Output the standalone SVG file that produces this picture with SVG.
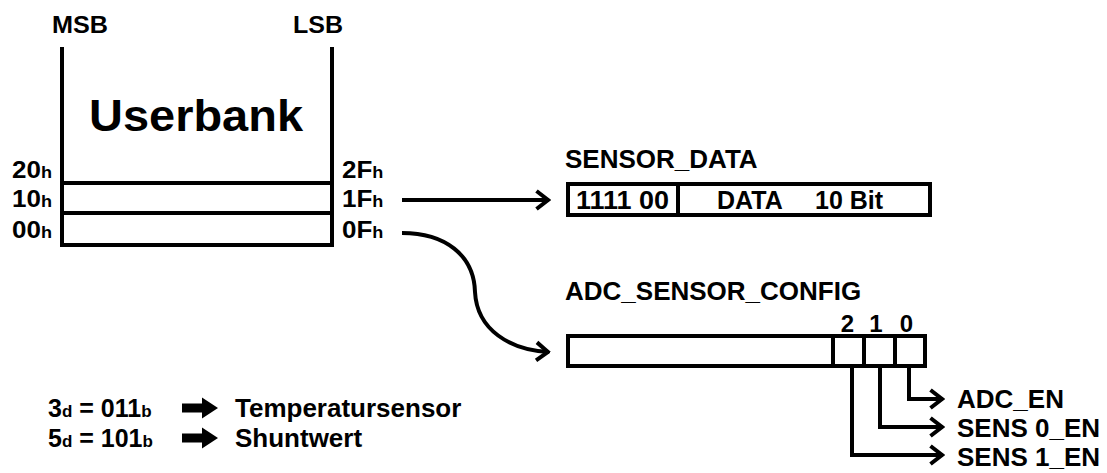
<svg xmlns="http://www.w3.org/2000/svg" width="1107" height="473" viewBox="0 0 1107 473">
  <style>
    text { font-family: "Liberation Sans", Arial, sans-serif; font-weight: bold; fill: #000; }
    .adr { font-size: 23px; }
    .sub { font-size: 16px; }
    .sub2 { font-size: 17px; }
    .reg { font-size: 25px; }
    .bit { font-size: 24px; }
    .out { font-size: 26px; }
    .ln { fill: none; stroke: #000; stroke-width: 4; }
    .box { fill: #fff; stroke: #000; stroke-width: 4; }
    .con { fill: none; stroke: #000; stroke-width: 4; }
  </style>
  <defs>
    <marker id="chev" viewBox="0 0 16 22" refX="14.5" refY="11" markerWidth="16" markerHeight="22" markerUnits="userSpaceOnUse" orient="auto">
      <path d="M2,2 L13.5,11 L2,20" fill="none" stroke="#000" stroke-width="4"/>
    </marker>
    <path id="fat" d="M0,-4.5 L20,-4.5 L20,-10.5 L36,0 L20,10.5 L20,4.5 L0,4.5 Z" fill="#000"/>
  </defs>

  <!-- memory bank -->
  <g id="userbank">
    <text x="52" y="33" font-size="23" textLength="56" lengthAdjust="spacingAndGlyphs">MSB</text>
    <text x="293" y="33" font-size="23" textLength="50" lengthAdjust="spacingAndGlyphs">LSB</text>
    <path class="ln" d="M62,47 V245 H332 V47"/>
    <line class="ln" x1="62" y1="183" x2="332" y2="183"/>
    <line class="ln" x1="62" y1="213" x2="332" y2="213"/>
    <text x="89" y="131" font-size="45" textLength="214" lengthAdjust="spacingAndGlyphs">Userbank</text>
    <text class="adr" transform="translate(12,178) scale(1.13,1)">20<tspan class="sub">h</tspan></text>
    <text class="adr" transform="translate(12,207) scale(1.13,1)">10<tspan class="sub">h</tspan></text>
    <text class="adr" transform="translate(12,238) scale(1.13,1)">00<tspan class="sub">h</tspan></text>
    <text class="adr" transform="translate(342,178) scale(1.13,1)">2F<tspan class="sub">h</tspan></text>
    <text class="adr" transform="translate(342,207) scale(1.13,1)">1F<tspan class="sub">h</tspan></text>
    <text class="adr" transform="translate(342,238) scale(1.13,1)">0F<tspan class="sub">h</tspan></text>
  </g>

  <!-- SENSOR_DATA register -->
  <g id="sensor_data">
    <text x="565" y="168" font-size="26">SENSOR_DATA</text>
    <rect class="box" x="568" y="184" width="362" height="31"/>
    <line class="ln" x1="678" y1="184" x2="678" y2="215"/>
    <text class="reg" x="576" y="209" textLength="93" lengthAdjust="spacingAndGlyphs">1111 00</text>
    <text class="reg" x="717" y="209">DATA</text>
    <text class="reg" x="815" y="209">10 Bit</text>
  </g>

  <!-- ADC_SENSOR_CONFIG register -->
  <g id="adc_sensor_config">
    <text x="565" y="300" font-size="26">ADC_SENSOR_CONFIG</text>
    <rect class="box" x="568" y="336" width="357" height="30"/>
    <line class="ln" x1="833" y1="336" x2="833" y2="366"/>
    <line class="ln" x1="864" y1="336" x2="864" y2="366"/>
    <line class="ln" x1="895" y1="336" x2="895" y2="366"/>
    <text class="bit" x="847.5" y="332" text-anchor="middle">2</text>
    <text class="bit" x="876" y="332" text-anchor="middle">1</text>
    <text class="bit" x="906.5" y="332" text-anchor="middle">0</text>
  </g>

  <!-- bit outputs -->
  <g id="bit_labels">
    <text class="out" x="957" y="408">ADC_EN</text>
    <text class="out" x="957" y="437">SENS 0_EN</text>
    <text class="out" x="957" y="466">SENS 1_EN</text>
  </g>

  <!-- legend -->
  <g id="legend">
    <text x="48" y="417" font-size="25">3<tspan class="sub2">d</tspan> = 011<tspan class="sub2">b</tspan></text>
    <text x="48" y="447" font-size="25">5<tspan class="sub2">d</tspan> = 101<tspan class="sub2">b</tspan></text>
    <use href="#fat" x="182" y="408"/>
    <use href="#fat" x="182" y="438"/>
    <text x="235" y="417" font-size="26">Temperatursensor</text>
    <text x="235" y="447" font-size="26">Shuntwert</text>
  </g>

  <!-- connectors -->
  <g id="connectors">
    <line class="con" x1="402" y1="200" x2="549" y2="200" marker-end="url(#chev)"/>
    <path class="con" d="M402,233 C445,233 474,255 475,292 C477,330 510,350 549,352" marker-end="url(#chev)"/>
    <path class="con" d="M909,366 V399 H943" marker-end="url(#chev)"/>
    <path class="con" d="M880,366 V427 H943" marker-end="url(#chev)"/>
    <path class="con" d="M852,366 V455 H943" marker-end="url(#chev)"/>
  </g>
</svg>
